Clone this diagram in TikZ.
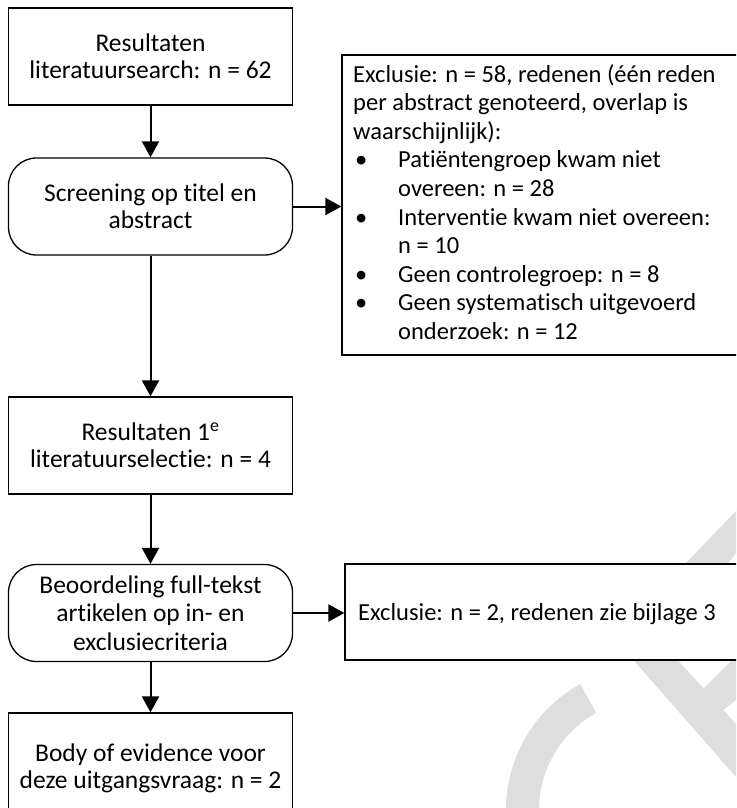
\documentclass[tikz,border=0pt]{standalone}
\usepackage{fontspec}
\setmainfont{Carlito}[Ligatures={NoCommon}]
\usetikzlibrary{arrows.meta,calc}
\newcommand\txt{\fontsize{25.5}{27}\selectfont}
\newcommand\txtb{\fontsize{25.5}{28.5}\selectfont}
\newcommand\etxt{\fontsize{24.5}{28.6}\selectfont}
\definecolor{wmgray}{HTML}{DEDEDE}
\tikzset{
  box/.style={draw, line width=1.3pt, fill=white, minimum width=284pt, minimum height=97pt, align=center, font=\txt, inner sep=2pt},
  rbox/.style={box, rounded corners=28pt},
  exbox/.style={draw, line width=1.3pt, fill=white, inner sep=0pt},
  arr/.style={line width=2pt, -{Triangle[length=16pt,width=17pt]}},
  ln/.style={anchor=base west, font=\etxt, inner sep=0pt},
  wm/.style={fill=wmgray, draw=none}
}
\begin{document}
\begin{tikzpicture}[x=1pt,y=-1pt]
\clip (0,0) rectangle (736,808);
\fill[white] (0,0) rectangle (736,808);
% watermark
\fill[wm] ($(650,810)+(-119:144)$) arc[start angle=-119,end angle=-220,radius=144]
  -- ($(650,810)+(-220:111)$) arc[start angle=-220,end angle=-119,radius=111] -- cycle;
\fill[wm] (683,566) -- (736,511) -- (736,553) -- (726,566) -- cycle;
\fill[wm] (629,655) -- (673,655) -- (736,724) -- (736,777) -- cycle;
\fill[wm] (700,692) -- (736,656) -- (736,700) -- (718,714) -- cycle;
% main boxes
\node[box] (b1) at (150.5,56.5) {Resultaten\\literatuursearch: n = 62};
\node[rbox] (b2) at (150.5,206.5) {Screening op titel en\\abstract};
\node[box] (b3) at (150.5,445.5) {Resultaten 1\textsuperscript{e}\\literatuurselectie: n = 4};
\node[rbox, font=\txtb] (b4) at (150.5,613) {Beoordeling full-tekst\\artikelen op in- en\\exclusiecriteria};
\node[box, minimum height=110pt] (b5) at (150.5,768) {Body of evidence voor\\deze uitgangsvraag: n = 2};
% exclusion boxes
\node[exbox, minimum width=418pt, minimum height=300pt] (e1) at (551,205) {};
\node[exbox, minimum width=415pt, minimum height=96pt] (e2) at (552.5,612) {};
% exclusion 1 text
\node[ln] (t1) at (353,82) {Exclusie: n = 58, redenen (één reden};
\node[ln] (t2) at (353,110.6) {per abstract genoteerd, overlap is};
\node[ln] (t3) at (353,139.2) {waarschijnlijk):};
\node[ln] (k1) at (355,167.8) {•};
\node[ln] (t4) at (398,167.8) {Patiëntengroep kwam niet};
\node[ln] (t5) at (398,196.4) {overeen: n = 28};
\node[ln] (k2) at (355,225) {•};
\node[ln] (t6) at (398,225) {Interventie kwam niet overeen:};
\node[ln] (t7) at (398,253.6) {n = 10};
\node[ln] (k3) at (355,282.2) {•};
\node[ln] (t8) at (398,282.2) {Geen controlegroep: n = 8};
\node[ln] (k4) at (355,310.8) {•};
\node[ln] (t9) at (398,310.8) {Geen systematisch uitgevoerd};
\node[ln] (t10) at (398,339.4) {onderzoek: n = 12};
% exclusion 2 text
\node[ln] (u1) at (358,620) {Exclusie: n = 2, redenen zie bijlage 3};
% connectors
\draw[arr] (b1.south) -- (b2.north);
\draw[arr] (b2.east) -- (b2.east -| e1.west);
\draw[arr] (b2.south) -- (b3.north);
\draw[arr] (b3.south) -- (b4.north);
\draw[arr] (b4.east) -- (b4.east -| e2.west);
\draw[arr] (b4.south) -- (b5.north);
\end{tikzpicture}
\end{document}
